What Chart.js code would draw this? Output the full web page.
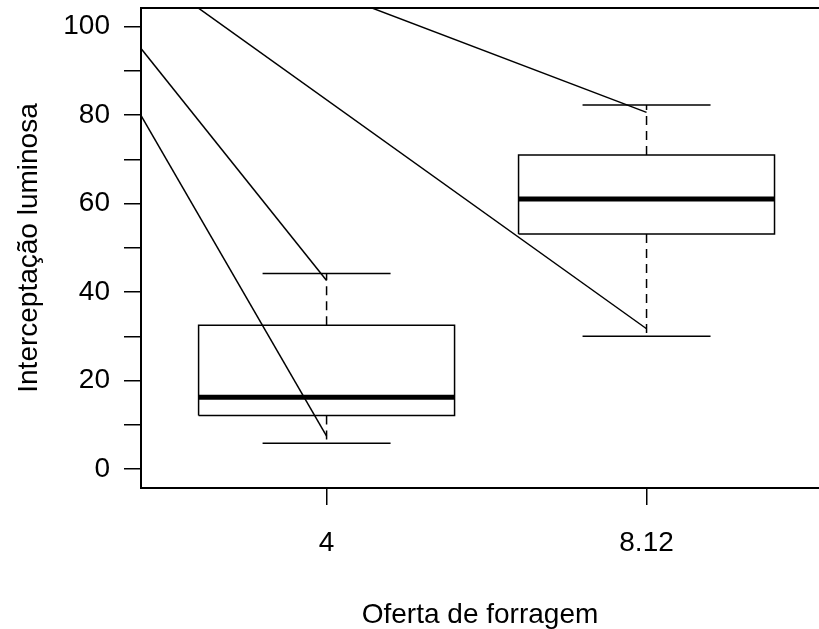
<!DOCTYPE html>
<html lang="pt">
<head>
<meta charset="utf-8">
<title>Interceptação luminosa x Oferta de forragem</title>
<script src="https://cdn.jsdelivr.net/npm/chart.js@4/dist/chart.umd.min.js"></script>
<style>
  html, body { margin: 0; padding: 0; background: #fff; overflow: hidden; }
  #grafico { display: block; }
</style>
</head>
<body>
<canvas id="grafico" width="819" height="629"></canvas>
<script>
/* boxplot: interceptação luminosa por oferta de forragem (+ 4 retas) */

// categorias do eixo x
const groups = ["4", "8.12"];
const groupPos = [1, 2];

// resumo dos boxes
const lowerWhisker = [5.8, 30.0];
const q1 = [12.1, 53.1];
const median = [16.2, 61.0];
const q3 = [32.5, 71.0];
const upperWhisker = [44.2, 82.3];

// retas sobrepostas (início e fim)
const lineStartX = [0, 0, 0, 0];
const lineStartY = [132.4, 133.0, 135.2, 135.6];
const lineEndX = [1, 1, 2, 2];
const lineEndY = [7.4, 42.6, 31.7, 80.6];

// eixo y
const yTicks = [0, 10, 20, 30, 40, 50, 60, 70, 80, 90, 100];
const yTickLabels = ["0", "", "20", "", "40", "", "60", "", "80", "", "100"];

/* ---------- montagem ---------- */
const BOX_HALF = 0.4;
const CAP_HALF = 0.2;
const LW = 1.5;

function seg(points, extra) {
  return Object.assign(
    {
      data: points,
      showLine: true,
      pointRadius: 0,
      borderColor: "#000",
      borderWidth: LW,
      fill: false,
      tension: 0,
    },
    extra || {}
  );
}

// sem padding automático dos rótulos: área do gráfico fica fixa
function noPad(s) {
  s.paddingTop = 0;
  s.paddingBottom = 0;
  s.paddingLeft = 0;
  s.paddingRight = 0;
}

const datasets = [];

// retas
lineStartY.forEach((y0, i) => {
  datasets.push(
    seg([
      { x: lineStartX[i], y: y0 },
      { x: lineEndX[i], y: lineEndY[i] },
    ])
  );
});

groupPos.forEach((p, i) => {
  // caixa
  datasets.push(
    seg([
      { x: p - BOX_HALF, y: q1[i] },
      { x: p + BOX_HALF, y: q1[i] },
      { x: p + BOX_HALF, y: q3[i] },
      { x: p - BOX_HALF, y: q3[i] },
      { x: p - BOX_HALF, y: q1[i] },
    ], { borderJoinStyle: "miter" })
  );
  // mediana
  datasets.push(
    seg(
      [
        { x: p - BOX_HALF, y: median[i] },
        { x: p + BOX_HALF, y: median[i] },
      ],
      { borderWidth: 5, borderCapStyle: "butt" }
    )
  );
  // bigodes tracejados
  datasets.push(
    seg(
      [
        { x: p, y: q3[i] },
        { x: p, y: upperWhisker[i] },
      ],
      { borderDash: [9, 6] }
    )
  );
  datasets.push(
    seg(
      [
        { x: p, y: q1[i] },
        { x: p, y: lowerWhisker[i] },
      ],
      { borderDash: [9, 6] }
    )
  );
  // hastes
  datasets.push(
    seg([
      { x: p - CAP_HALF, y: upperWhisker[i] },
      { x: p + CAP_HALF, y: upperWhisker[i] },
    ])
  );
  datasets.push(
    seg([
      { x: p - CAP_HALF, y: lowerWhisker[i] },
      { x: p + CAP_HALF, y: lowerWhisker[i] },
    ])
  );
});

Chart.defaults.font.family = '"Liberation Sans", Arial, sans-serif';
Chart.defaults.font.size = 28;
Chart.defaults.color = "#000";

const X_MIN = 0.42;
const X_MAX = 2.539;

new Chart(document.getElementById("grafico"), {
  type: "scatter",
  data: { datasets },
  options: {
    responsive: false,
    animation: false,
    events: [],
    layout: { padding: 0, autoPadding: false },
    plugins: {
      legend: { display: false },
      tooltip: { enabled: false },
    },
    scales: {
      x: {
        type: "linear",
        position: "bottom",
        min: X_MIN,
        max: X_MAX,
        afterBuildTicks: (s) => {
          s.ticks = groupPos.map((v) => ({ value: v }));
        },
        afterFit: (s) => {
          s.height = 141;
          noPad(s);
        },
        ticks: {
          autoSkip: false,
          maxRotation: 0,
          padding: 21,
          callback: (v) => groups[groupPos.indexOf(v)],
        },
        grid: {
          drawOnChartArea: false,
          drawTicks: true,
          tickLength: 17,
          color: "#000",
          lineWidth: LW,
        },
        border: { display: true, color: "#000", width: 2 },
        title: {
          display: true,
          text: "Oferta de forragem",
          font: { size: 28, lineHeight: 1 },
          padding: { top: 0, bottom: 0 },
        },
      },
      xTop: {
        type: "linear",
        position: "top",
        min: X_MIN,
        max: X_MAX,
        afterFit: (s) => {
          s.height = 8;
          noPad(s);
        },
        ticks: { display: false },
        grid: { display: false },
        border: { display: true, color: "#000", width: 2 },
      },
      y: {
        type: "linear",
        position: "left",
        min: -4.3,
        max: 104.2,
        afterBuildTicks: (s) => {
          s.ticks = yTicks.map((v) => ({ value: v }));
        },
        afterFit: (s) => {
          s.width = 141;
          noPad(s);
        },
        ticks: {
          autoSkip: false,
          padding: 14,
          callback: (v, i) => yTickLabels[i],
        },
        grid: {
          drawOnChartArea: false,
          drawTicks: true,
          tickLength: 17,
          color: "#000",
          lineWidth: LW,
        },
        border: { display: true, color: "#000", width: 2 },
        title: {
          display: true,
          text: "Interceptação luminosa",
          font: { size: 28 },
          padding: { top: 12, bottom: 0 },
        },
      },
    },
  },
});
</script>
</body>
</html>
